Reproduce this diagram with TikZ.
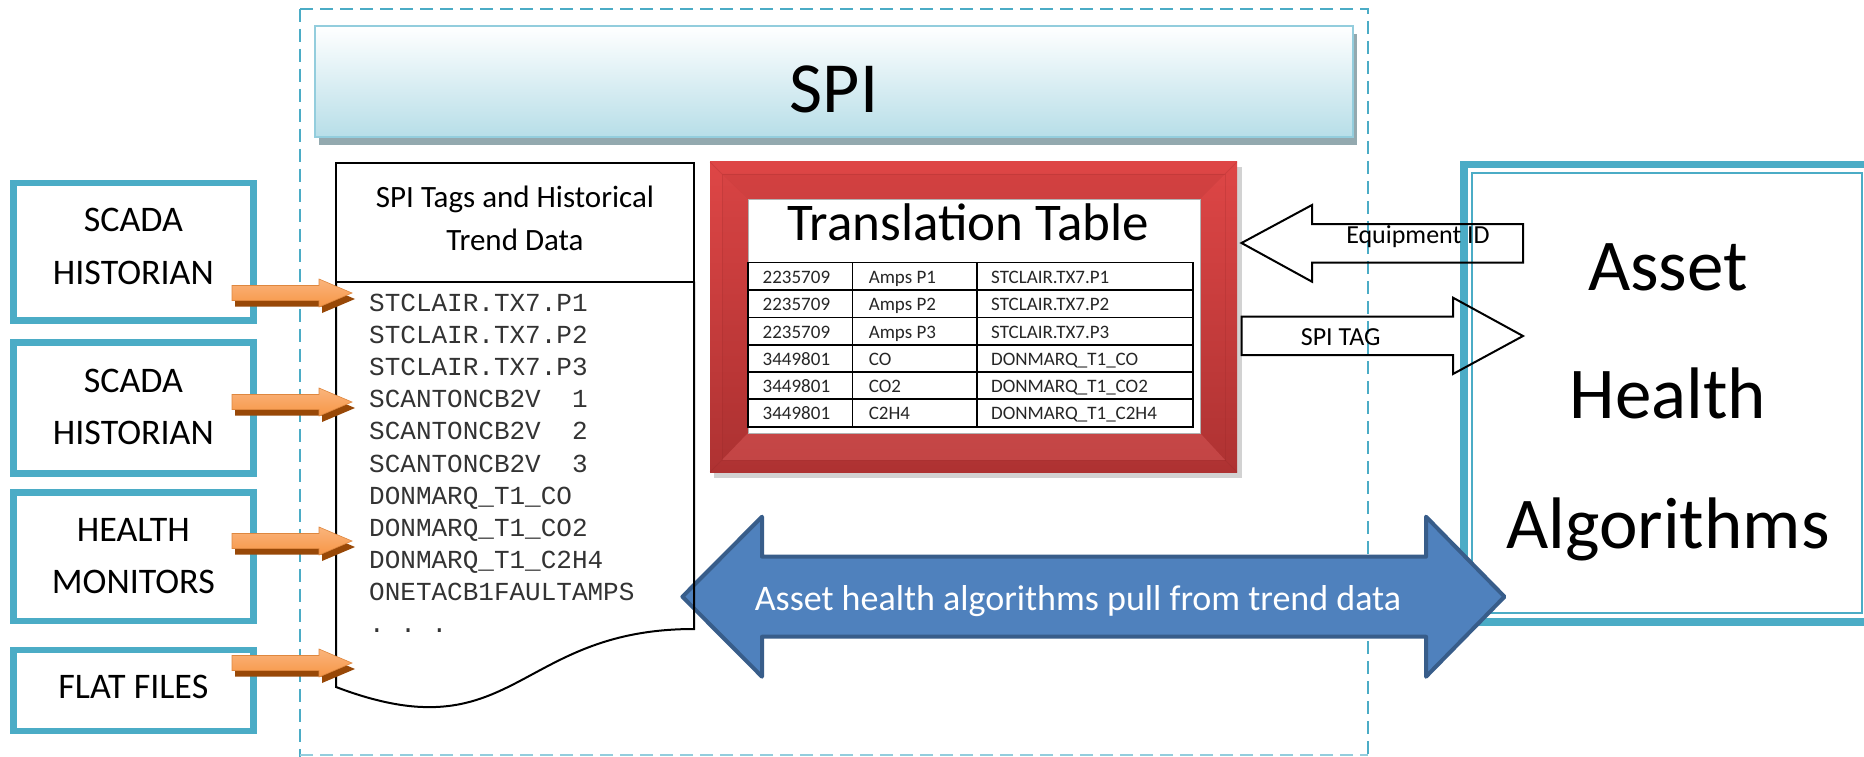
\documentclass[tikz,border=0pt]{standalone}
\usepackage{fontspec}
\setmainfont{Carlito}
\setmonofont{Liberation Mono}
\usetikzlibrary{calc}
\definecolor{tealc}{HTML}{4BACC6}
\definecolor{orngF}{HTML}{F79646}
\definecolor{orngL}{HTML}{FAB47C}
\definecolor{orngD}{HTML}{984807}
\definecolor{blueF}{HTML}{4F81BD}
\definecolor{blueD}{HTML}{385D8A}
\definecolor{spiB}{HTML}{B7DEE8}
\definecolor{spiLine}{HTML}{93CDDD}
\definecolor{spiShadow}{HTML}{93A9AF}
\definecolor{rtop}{HTML}{DE4646}
\definecolor{rbot}{HTML}{AE3232}
\definecolor{rdark}{HTML}{8E2424}
\definecolor{rlight}{HTML}{F07070}
\newcommand\fsz[1]{\fontsize{#1}{#1}\selectfont}
\newcommand\oarrow[1]{%
  \begin{scope}[shift={(3,6)}]
    \fill[orngD] (232,#1-7.5) -- (319,#1-7.5) -- (319,#1-14) -- (352,#1) -- (319,#1+14) -- (319,#1+7.5) -- (232,#1+7.5) -- cycle;
  \end{scope}
  \shade[top color=orngL, bottom color=orngF, draw=orngF!90!black, line width=0.6pt] (232,#1-7.5) -- (319,#1-7.5) -- (319,#1-14) -- (352,#1) -- (319,#1+14) -- (319,#1+7.5) -- (232,#1+7.5) -- cycle;
}
\begin{document}
\begin{tikzpicture}[x=1pt,y=-1pt,
  srcbox/.style={draw=tealc,line width=6.5pt,minimum width=240pt,inner sep=0pt,outer sep=0pt},
  srctxt/.style={anchor=base,inner sep=0pt,font=\fsz{36}},
  monotxt/.style={anchor=base west,inner sep=0pt,font=\ttfamily\fsz{26},text=black!80},
  celltxt/.style={anchor=base west,inner sep=0pt,font=\fsz{19},text=black!85},
  outarrow/.style={draw=black,line width=2pt,line join=miter},
  dashframe/.style={draw=tealc,line width=2pt,dash pattern=on 13pt off 7pt}
]
\useasboundingbox (0,0) rectangle (1864,757);
\clip (0,0) rectangle (1864,757);
\fill[white] (0,0) rectangle (1864,757);

% SPI outer dashed frame
\draw[dashframe] (300,9) -- (1368,9) -- (1368,760);
\draw[dashframe] (300,9) -- (300,760);
\draw[dashframe, draw=tealc!60] (300,755) -- (1368,755);

% SPI title bar
\fill[spiShadow] (319,34) rectangle (1357,145);
\shade[top color=white, bottom color=spiB, draw=spiLine, line width=2.5pt] (315,26) rectangle (1353,137);
\node[inner sep=0pt, anchor=base, font=\fsz{72}] (spi) at (834,113) {SPI};

% Source boxes
\node[srcbox, minimum height=137.5pt] (s1) at (133.4,251.8) {};
\node[srcbox, minimum height=131pt] (s2) at (133.4,408) {};
\node[srcbox, minimum height=128.5pt] (s3) at (133.4,556.8) {};
\node[srcbox, minimum height=80.7pt] (s4) at (133.4,690.4) {};
\node[srctxt] (s1a) at (133.4,231) {SCADA};
\node[srctxt] (s1b) at (133.4,284) {HISTORIAN};
\node[srctxt] (s2a) at (133.4,392) {SCADA};
\node[srctxt] (s2b) at (133.4,444) {HISTORIAN};
\node[srctxt] (s3a) at (133.4,541) {HEALTH};
\node[srctxt] (s3b) at (133.4,593) {MONITORS};
\node[srctxt] (s4a) at (133.4,698) {FLAT FILES};

% Asset Health Algorithms box
\node[draw=tealc, line width=7.6pt, minimum width=406pt, minimum height=457.5pt, inner sep=0pt, outer sep=0pt] (ah) at (1667,393.25) {};
\draw[tealc, line width=2.5pt] (1472,173) rectangle (1862,613);
\node[inner sep=0pt, anchor=base, font=\fsz{73}] (ah1) at (1668,290) {Asset};
\node[inner sep=0pt, anchor=base, font=\fsz{73}] (ah2) at (1668,418) {Health};
\node[inner sep=0pt, anchor=base, font=\fsz{73}] (ah3) at (1668,548) {Algorithms};

% Blue double arrow
\draw[fill=blueF, draw=blueD, line width=4pt, line join=round] (682.4,596.7) -- (762,516.7) -- (762,556.7) -- (1426,556.7) -- (1426,516.7) -- (1504.5,596.7) -- (1426,676.7) -- (1426,636.7) -- (762,636.7) -- (762,676.7) -- cycle;
\node[inner sep=0pt, anchor=base, font=\fsz{36}, text=white] (pull) at (1078,610) {Asset health algorithms pull from trend data};

% Document shape
\node[draw=black, line width=2pt, minimum width=358pt, minimum height=118.5pt, inner sep=0pt, outer sep=0pt] (dochead) at (515,222.25) {};
\draw[black, line width=2pt] (dochead.south west) -- (336,687) .. controls (515,755) and (515,629) .. (694,629) -- (dochead.south east);
\node[inner sep=0pt, anchor=base, font=\fsz{31}] (dh1) at (515,207.6) {SPI Tags and Historical};
\node[inner sep=0pt, anchor=base, font=\fsz{31}] (dh2) at (515,250.4) {Trend Data};
\node[monotxt] (m1) at (369,311.5) {STCLAIR.TX7.P1};
\node[monotxt] (m2) at (369,343.6) {STCLAIR.TX7.P2};
\node[monotxt] (m3) at (369,375.7) {STCLAIR.TX7.P3};
\node[monotxt] (m4) at (369,407.8) {SCANTONCB2V~~1};
\node[monotxt] (m5) at (369,439.9) {SCANTONCB2V~~2};
\node[monotxt] (m6) at (369,472.0) {SCANTONCB2V~~3};
\node[monotxt] (m7) at (369,504.1) {DONMARQ\_T1\_CO};
\node[monotxt] (m8) at (369,536.2) {DONMARQ\_T1\_CO2};
\node[monotxt] (m9) at (369,568.3) {DONMARQ\_T1\_C2H4};
\node[monotxt] (m10) at (369,600.4) {ONETACB1FAULTAMPS};
\node[monotxt] (m11) at (369,632.5) {.~.~.};

% Orange input arrows
\oarrow{293}
\oarrow{402}
\oarrow{541}
\oarrow{663}

% Translation table frame
\fill[black!25, opacity=0.7] (714,167) rectangle (1242,478);
\shade[top color=rtop, bottom color=rbot] (710,162) rectangle (1237,472);
\fill[rdark, opacity=0.12] (722,174) -- (1225,174) -- (1200,199) -- (748,199) -- cycle;
\fill[rdark, opacity=0.06] (722,174) -- (748,199) -- (748,433) -- (722,460) -- cycle;
\fill[rlight, opacity=0.3] (722,460) -- (748,433) -- (1200,433) -- (1225,460) -- cycle;
\draw[rdark, opacity=0.2, line width=0.8pt] (722,174) rectangle (1225,460);
\draw[rdark, opacity=0.2, line width=0.8pt] (710,162) -- (722,174) (1237,162) -- (1225,174) (710,472) -- (722,460) (1237,472) -- (1225,460);
\node[fill=white, draw=black!30, line width=1pt, minimum width=452pt, minimum height=234pt, inner sep=0pt, outer sep=0pt] (win) at (974,316) {};
\node[inner sep=0pt, anchor=base, font=\fsz{53}] (tt) at (968,240) {Translation Table};
\draw[black, line width=1.5pt] (748,262.7) rectangle (1193,427);
\foreach \yy in {290,317.7,345,372,399} \draw[black, line width=1.5pt] (748,\yy) -- (1193,\yy);
\draw[black, line width=1.5pt] (852.5,262.7) -- (852.5,427) (977,262.7) -- (977,427);
\node[celltxt] at (762.5,283.2) {2235709};
\node[celltxt] at (868.6,283.2) {Amps P1};
\node[celltxt] at (991,283.2) {STCLAIR.TX7.P1};
\node[celltxt] at (762.5,310.5) {2235709};
\node[celltxt] at (868.6,310.5) {Amps P2};
\node[celltxt] at (991,310.5) {STCLAIR.TX7.P2};
\node[celltxt] at (762.5,338.2) {2235709};
\node[celltxt] at (868.6,338.2) {Amps P3};
\node[celltxt] at (991,338.2) {STCLAIR.TX7.P3};
\node[celltxt] at (762.5,365.5) {3449801};
\node[celltxt] at (868.6,365.5) {CO};
\node[celltxt] at (991,365.5) {DONMARQ\_T1\_CO};
\node[celltxt] at (762.5,392.5) {3449801};
\node[celltxt] at (868.6,392.5) {CO2};
\node[celltxt] at (991,392.5) {DONMARQ\_T1\_CO2};
\node[celltxt] at (762.5,419.5) {3449801};
\node[celltxt] at (868.6,419.5) {C2H4};
\node[celltxt] at (991,419.5) {DONMARQ\_T1\_C2H4};

% Equipment ID / SPI TAG arrows
\coordinate (eqtip) at (1241.5,243);
\coordinate (sptip) at (1523,336);
\draw[outarrow] (eqtip) -- (1312,205) -- (1312,224) -- (1523,224) -- (1523,262.7) -- (1312,262.7) -- (1312,281.7) -- cycle;
\node[inner sep=0pt, anchor=base, font=\fsz{26}] (eqid) at (1418,243.3) {Equipment ID};
\draw[outarrow] (1241.5,316.7) -- (1453,316.7) -- (1453,297.7) -- (sptip) -- (1453,374) -- (1453,355) -- (1241.5,355) -- cycle;
\node[inner sep=0pt, anchor=base, font=\fsz{26}] (spitag) at (1340.7,345) {SPI TAG};
\end{tikzpicture}
\end{document}
